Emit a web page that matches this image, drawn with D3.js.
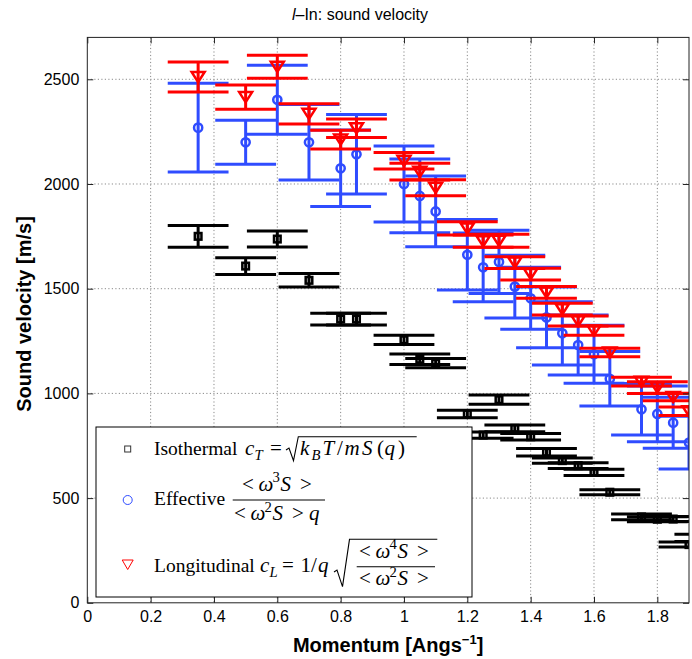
<!DOCTYPE html>
<html>
<head>
<meta charset="utf-8">
<script src="https://cdn.jsdelivr.net/npm/d3@7"></script>
<style>
  body { margin: 0; background: #fff; }
  svg { display: block; font-family: "Liberation Sans", Arial, Helvetica, sans-serif; }
</style>
</head>
<body>
<svg id="chart" width="692" height="659"></svg>
<script>
// Momentum transfer q (Å^-1) at which each velocity was evaluated
const momentum = [0.35, 0.5, 0.6, 0.7, 0.8, 0.85, 1.0, 1.05, 1.1, 1.2, 1.25, 1.3,
                  1.35, 1.4, 1.45, 1.5, 1.55, 1.6, 1.65, 1.75, 1.8, 1.85, 1.9];
// the isothermal set has one more point just past the axis end
const momentumIsothermal = momentum.concat([1.95]);

// Isothermal c_T (m/s) and its uncertainty
const isothermal    = [1750, 1608, 1737, 1540, 1355, 1355, 1256, 1163, 1145, 902, 801, 970,
                       833, 793, 719, 679, 655, 623, 528, 410, 399, 400, 278, 310];
const isothermalErr = [52, 40, 38, 32, 28, 28, 22, 25, 22, 18, 15, 22,
                       16, 16, 18, 12, 14, 15, 12, 14, 12, 12, 12, 17];

// Effective velocity <w^3 S>/(<w^2 S> q) and its uncertainty
const effective    = [2269, 2199, 2402, 2199, 2075, 2142, 2000, 1943, 1869, 1662, 1602, 1628,
                      1510, 1454, 1363, 1287, 1231, 1187, 1070, 924, 902, 860, 765];
const effectiveErr = [212, 105, 165, 180, 183, 190, 181, 176, 169, 168, 164, 151,
                      150, 148, 145, 151, 143, 139, 130, 123, 133, 122, 126];

// Longitudinal c_L and its uncertainty
const longitudinal    = [2511, 2415, 2560, 2335, 2212, 2266, 2111, 2059, 1982, 1788, 1727, 1729,
                         1625, 1570, 1482, 1402, 1346, 1300, 1195, 1056, 1028, 983, 915];
const longitudinalErr = [72, 58, 55, 48, 45, 44, 39, 40, 38, 32, 29, 31,
                         28, 28, 28, 28, 24, 22, 20, 21, 28, 18, 20];

const xTicks = [0, 0.2, 0.4, 0.6, 0.8, 1, 1.2, 1.4, 1.6, 1.8];
const yTicks = [0, 500, 1000, 1500, 2000, 2500];

const BLUE = "#2f4cff", RED = "#ff0000", BLACK = "#000000";

const series = [
  { q: momentumIsothermal, v: isothermal,   e: isothermalErr,   color: BLACK, marker: "square" },
  { q: momentum,           v: effective,    e: effectiveErr,    color: BLUE,  marker: "circle" },
  { q: momentum,           v: longitudinal, e: longitudinalErr, color: RED,   marker: "triangle" }
];

const svg = d3.select("#chart");
const L = 87.3, R = 689, T = 37.4, B = 602.8;
const x = d3.scaleLinear().domain([0, 1.9]).range([L, R]);
const y = d3.scaleLinear().domain([0, 2700]).range([B, T]);
const capHalf = 0.096; // half length of the error-bar caps, in q units

svg.append("rect").attr("width", 692).attr("height", 659).attr("fill", "#fff");

svg.append("defs").append("clipPath").attr("id", "plotClip")
  .append("rect").attr("x", L).attr("y", T).attr("width", R - L).attr("height", B - T);

// dotted grid
const grid = svg.append("g").attr("stroke", "#8a8a8a").attr("stroke-width", 1)
  .attr("stroke-dasharray", "1.2,2.3");
grid.selectAll("line.gx").data(xTicks.filter(d => d > 0)).join("line")
  .attr("x1", d => x(d)).attr("x2", d => x(d)).attr("y1", T).attr("y2", B);
grid.selectAll("line.gy").data(yTicks.filter(d => d > 0)).join("line")
  .attr("y1", d => y(d)).attr("y2", d => y(d)).attr("x1", L).attr("x2", R);

// data: error bars first, then markers, series by series
const plot = svg.append("g").attr("clip-path", "url(#plotClip)");
const symbol = {
  square:   g => g.append("rect").attr("x", -3.3).attr("y", -3.3).attr("width", 6.6).attr("height", 6.6),
  circle:   g => g.append("circle").attr("r", 4.1),
  triangle: g => g.append("path").attr("d", "M-6.5,-5L6.5,-5L0,5.2Z")
};

series.forEach(s => {
  const pts = s.q.map((q, i) => ({ q, v: s.v[i], e: s.e[i] }));
  const g = plot.append("g").attr("stroke", s.color).attr("fill", "none");
  const bars = g.append("g").attr("stroke-width", 3);
  pts.forEach(p => {
    bars.append("line").attr("x1", x(p.q)).attr("x2", x(p.q))
      .attr("y1", y(p.v - p.e)).attr("y2", y(p.v + p.e));
    [p.v - p.e, p.v + p.e].forEach(c => {
      bars.append("line").attr("x1", x(p.q - capHalf)).attr("x2", x(p.q + capHalf))
        .attr("y1", y(c)).attr("y2", y(c));
    });
  });
  const marks = g.append("g").attr("stroke-width", 2.5);
  pts.forEach(p => {
    const m = marks.append("g").attr("transform", `translate(${x(p.q)},${y(p.v)})`);
    symbol[s.marker](m);
  });
});

// axes with inward ticks on all sides
const fmt = d => String(+d.toFixed(1));
const axStyle = g => {
  g.select(".domain").remove();
  g.attr("font-family", null);
  g.selectAll(".tick line").attr("stroke", "#222");
  g.selectAll(".tick text").attr("font-size", 16).attr("fill", "#000");
};
svg.append("g").attr("transform", `translate(0,${B})`)
  .call(d3.axisBottom(x).tickValues(xTicks).tickSize(-6).tickPadding(8).tickFormat(fmt)).call(axStyle);
svg.append("g").attr("transform", `translate(0,${T})`)
  .call(d3.axisTop(x).tickValues(xTicks).tickSize(-6).tickFormat("")).call(axStyle);
svg.append("g").attr("transform", `translate(${L},0)`)
  .call(d3.axisLeft(y).tickValues(yTicks).tickSize(-6).tickPadding(8).tickFormat(d => String(d))).call(axStyle);
svg.append("g").attr("transform", `translate(${R},0)`)
  .call(d3.axisRight(y).tickValues(yTicks).tickSize(-6).tickFormat("")).call(axStyle);
svg.append("rect").attr("x", L).attr("y", T).attr("width", R - L).attr("height", B - T)
  .attr("fill", "none").attr("stroke", "#222").attr("stroke-width", 1);

// title and axis labels
const title = svg.append("text").attr("x", 360).attr("y", 20)
  .attr("text-anchor", "middle").attr("font-size", 16);
title.append("tspan").attr("font-style", "italic").text("l");
title.append("tspan").text("\u2013In: sound velocity");

const xl = svg.append("text").attr("x", (L + R) / 2).attr("y", 652)
  .attr("text-anchor", "middle").attr("font-size", 20).attr("font-weight", "bold");
xl.append("tspan").text("Momentum [Angs");
xl.append("tspan").attr("dy", -8).attr("font-size", 13).text("\u22121");
xl.append("tspan").attr("dy", 8).text("]");

svg.append("text").attr("transform", `translate(31,314) rotate(-90)`)
  .attr("text-anchor", "middle").attr("font-size", 20).attr("font-weight", "bold")
  .text("Sound velocity [m/s]");

// legend
const serif = '"Liberation Serif", "Times New Roman", serif';
const FS = 19.5, MS = 21;   // word and formula sizes
const legend = svg.append("g");
legend.append("rect").attr("x", 96).attr("y", 427).attr("width", 376).attr("height", 170)
  .attr("fill", "#fff").attr("stroke", "#000").attr("stroke-width", 1);

// a line of text pieces: italic (i), sub-/superscript (s = -1 / 1), optional pen position (x)
function writeRuns(g, x0, y0, parts, size = MS) {
  const t = g.append("text").attr("x", x0).attr("y", y0).style("font-family", serif)
    .attr("font-size", size).attr("fill", "#000").style("white-space", "pre");
  let shift = 0;
  parts.forEach(p => {
    const target = p.s === 1 ? -size * 0.4 : p.s === -1 ? size * 0.25 : 0;
    const sp = t.append("tspan").attr("dy", target - shift)
      .attr("font-style", p.i ? "italic" : "normal")
      .attr("font-size", p.s ? size * 0.7 : size).text(p.t);
    if (p.x !== undefined) sp.attr("x", p.x);
    shift = target;
  });
  return t;
}
const ink = (g, d) => g.append("path").attr("d", d).attr("fill", "none")
  .attr("stroke", "#000").attr("stroke-width", 1.1);
// "< w^n S >" with its pieces spaced like typeset math
const moment = (x0, n) => [
  { t: "<", x: x0 }, { t: "\u03c9", i: 1, x: x0 + 16.5 }, { t: n, s: 1, x: x0 + 30.5 },
  { t: "S", i: 1, x: x0 + 38.5 }, { t: ">", x: x0 + 58 }];

// Isothermal entry
legend.append("rect").attr("x", 124.7).attr("y", 446).attr("width", 6).attr("height", 6)
  .attr("fill", "none").attr("stroke", "#333").attr("stroke-width", 1);
writeRuns(legend, 154, 455, [{ t: "Isothermal" }], FS);
writeRuns(legend, 245, 455, [
  { t: "c", i: 1, x: 245 }, { t: "T", i: 1, s: -1, x: 254.5 }, { t: "=", x: 270 }]);
ink(legend, "M286,450L289,448L293.5,460.7L298.3,436.7L416.7,436.7");
writeRuns(legend, 300, 455, [
  { t: "k", i: 1, x: 300 }, { t: "B", i: 1, s: -1, x: 311.5 }, { t: "T", i: 1, x: 322.5 },
  { t: "/", x: 337 }, { t: "m", i: 1, x: 344.5 }, { t: "S", i: 1, x: 362 },
  { t: "(", x: 377 }, { t: "q", i: 1, x: 384.5 }, { t: ")", x: 398 }]);

// Effective entry
legend.append("circle").attr("cx", 127.7).attr("cy", 500).attr("r", 4.5)
  .attr("fill", "none").attr("stroke", BLUE).attr("stroke-width", 1);
writeRuns(legend, 154, 505, [{ t: "Effective" }], FS);
writeRuns(legend, 242, 490.7, moment(242, "3"));
ink(legend, "M232.7,500L325,500");
writeRuns(legend, 234, 520, moment(234, "2").concat([{ t: "q", i: 1, x: 309 }]));

// Longitudinal entry
legend.append("path").attr("transform", "translate(127.7,564.5)").attr("d", "M-5.5,-4.5L5.5,-4.5L0,5Z")
  .attr("fill", "none").attr("stroke", RED).attr("stroke-width", 1);
writeRuns(legend, 154, 571.7, [{ t: "Longitudinal" }], FS);
writeRuns(legend, 260, 571.7, [
  { t: "c", i: 1, x: 260 }, { t: "L", i: 1, s: -1, x: 269.5 },
  { t: "=", x: 282 }, { t: "1", x: 300.5 }, { t: "/", x: 311 }, { t: "q", i: 1, x: 318 }]);
ink(legend, "M334,572L337,570L342.5,586.7L349.5,539.3L437.3,539.3");
writeRuns(legend, 359, 557.7, moment(359, "4"));
ink(legend, "M356.7,566.7L435,566.7");
writeRuns(legend, 359, 585, moment(359, "2"));
</script>
</body>
</html>
